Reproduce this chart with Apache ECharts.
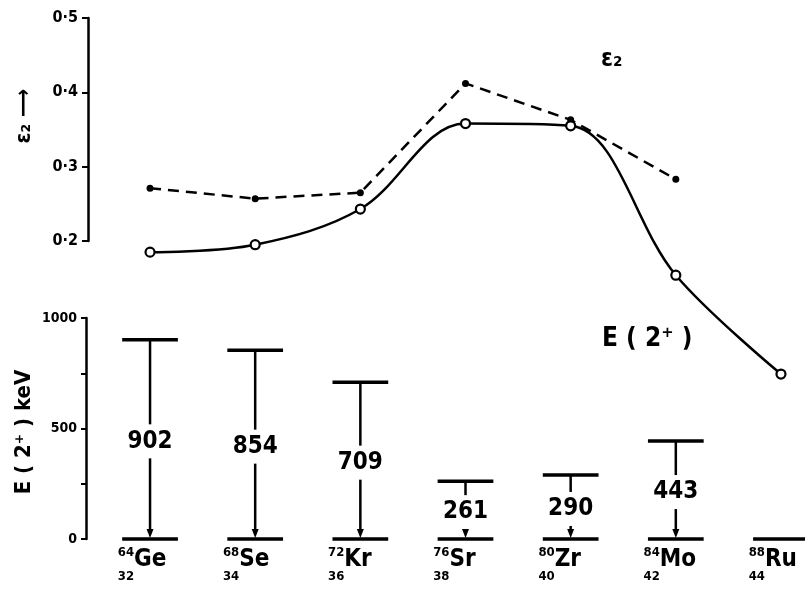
<!DOCTYPE html>
<html>
<head>
<meta charset="utf-8">
<script src="https://cdn.jsdelivr.net/npm/echarts@6/dist/echarts.min.js"></script>
<style>
html,body{margin:0;padding:0;background:#fff;}
#chart{width:805px;height:589px;}
</style>
</head>
<body>
<div id="chart"></div>
<script>
// ---- data ----
const symbols = ['Ge', 'Se', 'Kr', 'Sr', 'Zr', 'Mo', 'Ru'];
const massNumbers = [64, 68, 72, 76, 80, 84, 88];
const protonNumbers = [32, 34, 36, 38, 40, 42, 44];
const epsSolid = [0.185, 0.195, 0.243, 0.358, 0.355, 0.154, 0.021];
const epsDashed = [0.271, 0.257, 0.265, 0.412, 0.363, 0.283];
const energies = [902, 854, 709, 261, 290, 443, null];
const epsTicks = [0.2, 0.3, 0.4, 0.5];
const energyTickLabels = [0, 500, 1000];

const FONT = "'Liberation Sans Narrow','DejaVu Sans Condensed','Liberation Sans',sans-serif";

const chart = echarts.init(document.getElementById('chart'), null, {renderer: 'canvas'});

const xCommon = {type: 'value', min: -0.59, max: 6.2, show: false};

function renderLevel(params, api) {
  const i = api.value(0), E = api.value(1), has = api.value(2);
  const g = api.coord([i, 0]);
  const cx = g[0], y0 = g[1];
  const hw = api.size([0.53, 0])[0] / 2;
  const black = '#000';
  const ch = [];
  ch.push({type: 'line', shape: {x1: cx - hw, y1: y0, x2: cx + hw, y2: y0}, style: {stroke: black, lineWidth: 3.5}});
  if (has) {
    const yt = api.coord([i, E])[1];
    const mid = (yt + y0) / 2 + 2;
    ch.push({type: 'line', shape: {x1: cx - hw, y1: yt, x2: cx + hw, y2: yt}, style: {stroke: black, lineWidth: 3.5}});
    ch.push({type: 'line', shape: {x1: cx, y1: yt, x2: cx, y2: Math.max(yt, mid - 17)}, style: {stroke: black, lineWidth: 2.5}});
    ch.push({type: 'line', shape: {x1: cx, y1: Math.min(y0 - 6, mid + 17), x2: cx, y2: y0 - 6}, style: {stroke: black, lineWidth: 2.5}});
    ch.push({type: 'polygon', shape: {points: [[cx - 3.5, y0 - 10], [cx + 3.5, y0 - 10], [cx, y0 - 1]]}, style: {fill: black}});
    ch.push({type: 'text', x: cx, y: mid, style: {text: String(E), font: 'bold 24px ' + FONT, fill: black,
      textAlign: 'center', textVerticalAlign: 'middle', align: 'center', verticalAlign: 'middle'}});
  }
  // nuclide label
  ch.push({type: 'text', x: cx - 16, y: y0 + 14, style: {text: String(massNumbers[i]), font: 'bold 13px ' + FONT, fill: black,
    textAlign: 'right', textVerticalAlign: 'middle', align: 'right', verticalAlign: 'middle'}});
  ch.push({type: 'text', x: cx - 16, y: y0 + 21, style: {text: symbols[i], font: 'bold 24px ' + FONT, fill: black,
    textAlign: 'left', textVerticalAlign: 'middle', align: 'left', verticalAlign: 'middle'}});
  ch.push({type: 'text', x: cx - 16, y: y0 + 38, style: {text: String(protonNumbers[i]), font: 'bold 13px ' + FONT, fill: black,
    textAlign: 'right', textVerticalAlign: 'middle', align: 'right', verticalAlign: 'middle'}});
  return {type: 'group', children: ch};
}

const option = {
  backgroundColor: '#fff',
  animation: false,
  grid: [
    {left: 88, right: 3, top: 18, height: 223},
    {left: 88, right: 3, top: 318, height: 221}
  ],
  xAxis: [
    Object.assign({gridIndex: 0}, xCommon),
    Object.assign({gridIndex: 1}, xCommon)
  ],
  yAxis: [
    {
      gridIndex: 0, type: 'value', min: epsTicks[0], max: epsTicks[epsTicks.length - 1], interval: 0.1,
      axisLine: {show: true, onZero: false, lineStyle: {color: '#000', width: 2.5}},
      axisTick: {show: true, length: 6, lineStyle: {color: '#000', width: 2}},
      axisLabel: {color: '#000', fontFamily: FONT, fontWeight: 'bold', fontSize: 16, margin: 10,
        formatter: v => v.toFixed(1).replace('.', '·')},
      splitLine: {show: false}
    },
    {
      gridIndex: 1, type: 'value', min: 0, max: 1000, interval: 250, offset: 2,
      axisLine: {show: true, onZero: false, lineStyle: {color: '#000', width: 2.5}},
      axisTick: {show: true, length: 5, lineStyle: {color: '#000', width: 2}},
      axisLabel: {color: '#000', fontFamily: FONT, fontWeight: 'bold', fontSize: 14, margin: 9,
        formatter: v => energyTickLabels.indexOf(v) >= 0 ? String(v) : ''},
      splitLine: {show: false}
    }
  ],
  graphic: [
    {type: 'text', x: 24, y: 116, rotation: Math.PI / 2,
      style: {text: 'ε₂ ⟶', font: 'bold 22px ' + FONT, fill: '#000', textAlign: 'center', textVerticalAlign: 'middle', align: 'center', verticalAlign: 'middle'}},
    {type: 'text', x: 24, y: 432, rotation: Math.PI / 2,
      style: {text: 'E ( 2⁺ ) keV', font: 'bold 22px ' + FONT, fill: '#000', textAlign: 'center', textVerticalAlign: 'middle', align: 'center', verticalAlign: 'middle'}},
    {type: 'text', x: 601, y: 60,
      style: {text: 'ε₂', font: 'bold 24px ' + FONT, fill: '#000', textAlign: 'left', textVerticalAlign: 'middle', align: 'left', verticalAlign: 'middle'}},
    {type: 'text', x: 602, y: 339,
      style: {text: 'E ( 2⁺ )', font: 'bold 26px ' + FONT, fill: '#000', textAlign: 'left', textVerticalAlign: 'middle', align: 'left', verticalAlign: 'middle'}}
  ],
  series: [
    {
      type: 'line', xAxisIndex: 0, yAxisIndex: 0, clip: false, z: 3,
      data: epsDashed.map((v, i) => [i, v]),
      symbol: 'circle', symbolSize: 7,
      itemStyle: {color: '#000'},
      lineStyle: {color: '#000', width: 2.5, type: [11, 7]}
    },
    {
      type: 'line', xAxisIndex: 0, yAxisIndex: 0, clip: false, z: 4,
      data: epsSolid.map((v, i) => [i, v]),
      smooth: 0.35,
      symbol: 'circle', symbolSize: 9,
      itemStyle: {color: '#fff', borderColor: '#000', borderWidth: 2.2},
      lineStyle: {color: '#000', width: 2.5}
    },
    {
      type: 'custom', xAxisIndex: 1, yAxisIndex: 1, clip: false, z: 2,
      data: energies.map((e, i) => [i, e == null ? 0 : e, e == null ? 0 : 1]),
      renderItem: renderLevel
    }
  ]
};
chart.setOption(option);
</script>
</body>
</html>
